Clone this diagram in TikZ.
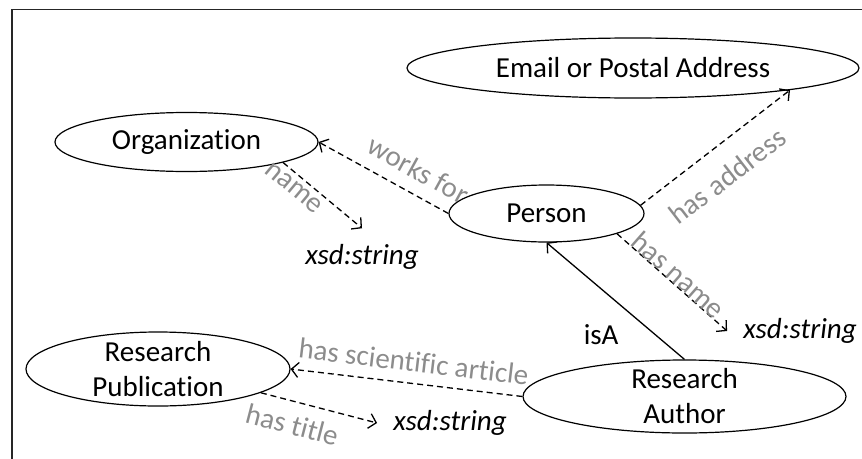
\documentclass[tikz,border=0pt]{standalone}
\usepackage{fontspec}
\setmainfont{Carlito}[Ligatures=CommonOff]
\usetikzlibrary{shapes, arrows.meta, positioning, calc}

\begin{document}
\begin{tikzpicture}[
    x=1pt, y=-1pt,
    every node/.style = {font=\fontsize{29}{35}\selectfont},
    concept/.style = {ellipse, draw=black, line width=1.2pt, inner sep=0pt, inner ysep=-3pt, align=center},
    literal/.style = {inner sep=16pt, font=\fontsize{29}{35}\selectfont\itshape},
    arrow/.style = {-{Straight Barb[length=7pt, width=15pt]}, line width=1.3pt},
    darrow/.style = {arrow, dash pattern=on 6pt off 4pt},
    plabel/.style = {text=black!45, sloped, inner sep=2pt},
    frame/.style = {line width=1.6pt, black!85}
]
\useasboundingbox (0,0) rectangle (862,458);
\draw[frame] (12,470) -- (12,9.5) -- (875,9.5);

% Classes
\node[concept, minimum width=452pt, minimum height=60pt] (addr) at (633,68) {Email or Postal Address};
\node[concept, minimum width=263pt, minimum height=59pt] (org) at (186.5,142) {Organization};
\node[concept, minimum width=195pt, minimum height=57pt] (person) at (546.5,213.5) {Person};
\node[concept, minimum width=264pt, minimum height=74pt] (pub) at (158,369) {Research\\Publication};
\node[concept, minimum width=323pt, minimum height=73pt] (author) at (684.5,396.5) {Research\\Author};

% Literals
\node[literal] (orgstr) at (362,257) {xsd:string};
\node[literal] (perstr) at (800,331) {xsd:string};
\node[literal] (pubstr) at (450,423) {xsd:string};

% Edges
\draw[darrow] (person.west) -- (org.east) node[plabel, above=11pt, pos=0.32] {works for};
\draw[darrow] (org.-12) -- (orgstr.north) node[plabel, below=3pt, pos=0.24] {name};
\draw[darrow] (person.5) -- (addr.-8) node[plabel, below=17pt, pos=0.46] {has address};
\draw[darrow] (person.-16) -- (perstr.west) node[plabel, anchor=base, pos=0.5] {has name};
\draw[arrow] (author.north) -- (person.south) node[left=33pt, pos=0.21] {isA};
\draw[darrow] (author.west) -- (pub.east) node[plabel, above=9pt, pos=0.48] {has scientific article};
\draw[darrow] (pub.-13) -- (pubstr.west) node[plabel, below=10pt, pos=0.32] {has title};

\end{tikzpicture}
\end{document}
